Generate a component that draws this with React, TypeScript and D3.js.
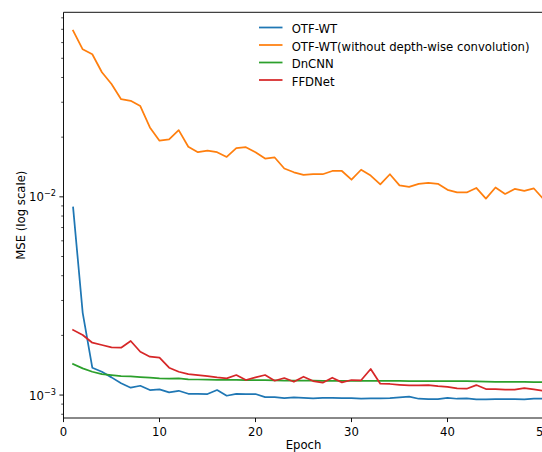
import { useEffect, useRef } from 'react';
import * as d3 from 'd3';

// epochs 1..50
const epochs: number[] = d3.range(1, 51);

const otfWt: number[] = [
	0.00884, 0.0026, 0.001374, 0.001311, 0.001228, 0.001146, 0.001089, 0.001114, 0.00106, 0.001069,
	0.001032, 0.001051, 0.001015, 0.001015, 0.001012, 0.00106, 0.000992, 0.001015, 0.001012, 0.001012,
	0.000977, 0.000977, 0.000966, 0.000974, 0.000969, 0.000962, 0.000969, 0.000969, 0.000966, 0.000966,
	0.000958, 0.000962, 0.000962, 0.000966, 0.000974, 0.000981, 0.000958, 0.000955, 0.000955, 0.000969,
	0.000958, 0.000962, 0.000951, 0.000951, 0.000955, 0.000955, 0.000955, 0.000951, 0.000958, 0.000958
];

const otfWtNoDw: number[] = [
	0.0689, 0.0555, 0.0524, 0.0425, 0.0371, 0.0311, 0.0305, 0.0287, 0.0224, 0.0192,
	0.0195, 0.0217, 0.0179, 0.0168, 0.0171, 0.0168, 0.0159, 0.0176, 0.0178, 0.0168,
	0.0156, 0.0158, 0.0139, 0.0133, 0.0129, 0.013, 0.013, 0.0135, 0.0135, 0.0122,
	0.0137, 0.0128, 0.01155, 0.013, 0.01142, 0.01123, 0.01163, 0.01177, 0.01163, 0.01085,
	0.01052, 0.01052, 0.01109, 0.00979, 0.01115, 0.01034, 0.01096, 0.01071, 0.01102, 0.00974
];

const dncnn: number[] = [
	0.001434, 0.001364, 0.001311, 0.001276, 0.001262, 0.001247, 0.001243, 0.001233, 0.001223, 0.001214,
	0.001209, 0.001214, 0.0012, 0.001198, 0.001196, 0.001194, 0.001193, 0.001192, 0.001191, 0.00119,
	0.001188, 0.001186, 0.001184, 0.001182, 0.001181, 0.001181, 0.00118, 0.00118, 0.00118, 0.00118,
	0.001179, 0.001179, 0.001178, 0.001178, 0.001178, 0.001177, 0.001177, 0.001177, 0.001176, 0.001176,
	0.001175, 0.001175, 0.001172, 0.001168, 0.001166, 0.001165, 0.001164, 0.001164, 0.001163, 0.001163
];

const ffdnet: number[] = [
	0.00213, 0.002009, 0.001837, 0.001789, 0.001741, 0.001733, 0.001874, 0.001654, 0.001561, 0.001543,
	0.001374, 0.001311, 0.001276, 0.001262, 0.001247, 0.001228, 0.001214, 0.001262, 0.001191, 0.001228,
	0.001262, 0.001181, 0.001219, 0.001167, 0.001237, 0.001177, 0.001154, 0.001223, 0.001159, 0.001191,
	0.001187, 0.001353, 0.001141, 0.001137, 0.001127, 0.001119, 0.001119, 0.001123, 0.00111, 0.001101,
	0.001081, 0.001076, 0.001123, 0.001072, 0.001072, 0.001064, 0.001064, 0.001085, 0.001069, 0.001051
];

const seriesNames: string[] = ['OTF-WT', 'OTF-WT(without depth-wise convolution)', 'DnCNN', 'FFDNet'];
const seriesColors: string[] = ['#1f77b4', '#ff7f0e', '#2ca02c', '#d62728'];
const xTicks: number[] = [0, 10, 20, 30, 40, 50];
const yMajorExps: number[] = [-3, -2];

export default function App() {
	const svgRef = useRef<SVGSVGElement | null>(null);

	useEffect(() => {
		const svg = d3.select(svgRef.current);
		svg.selectAll('*').remove();

		const width = 542;
		const height = 452;
		const left = 63.5;
		const right = 543.5;
		const top = 12.3;
		const bottom = 418;
		const font = 'DejaVu Sans, sans-serif';
		const fs = 11.67;

		svg.attr('width', width).attr('height', height);

		const x = d3.scaleLinear().domain([0, 50]).range([left, right]);
		const y = d3.scaleLog().domain([7.66e-4, 0.0853]).range([bottom, top]);

		svg.append('defs').append('clipPath').attr('id', 'plot-clip')
			.append('rect').attr('x', left).attr('y', top).attr('width', right - left).attr('height', bottom - top);

		// lines
		const allSeries = [otfWt, otfWtNoDw, dncnn, ffdnet];
		const line = d3.line<number>().x((_, i) => x(epochs[i])).y((d) => y(d));
		const lines = svg.append('g').attr('clip-path', 'url(#plot-clip)');
		allSeries.forEach((s, i) => {
			lines.append('path')
				.attr('d', line(s))
				.attr('fill', 'none')
				.attr('stroke', seriesColors[i])
				.attr('stroke-width', 1.75)
				.attr('stroke-linejoin', 'round')
				.attr('stroke-linecap', 'square');
		});

		// spines
		const spine = svg.append('g').attr('stroke', '#000').attr('stroke-width', 0.93).attr('fill', 'none');
		spine.append('path').attr('d', `M${left},${top}V${bottom}H${right}`);
		spine.append('path').attr('d', `M${left},${top}H${right}`);

		// x ticks
		const xAxis = svg.append('g');
		xTicks.forEach((t) => {
			xAxis.append('line').attr('x1', x(t)).attr('x2', x(t)).attr('y1', bottom).attr('y2', bottom + 4.1)
				.attr('stroke', '#000').attr('stroke-width', 0.93);
			xAxis.append('text').attr('x', x(t)).attr('y', bottom + 17.5).attr('text-anchor', 'middle')
				.attr('font-family', font).attr('font-size', fs).attr('fill', '#000').text(String(t));
		});

		// y ticks (log)
		const yAxis = svg.append('g');
		const [lo, hi] = y.domain();
		for (let e = -4; e <= -1; e++) {
			for (let m = 2; m <= 9; m++) {
				const v = m * Math.pow(10, e);
				if (v < lo || v > hi) continue;
				yAxis.append('line').attr('x1', left - 2.3).attr('x2', left).attr('y1', y(v)).attr('y2', y(v))
					.attr('stroke', '#000').attr('stroke-width', 0.7);
			}
		}
		yMajorExps.forEach((e) => {
			const v = Math.pow(10, e);
			yAxis.append('line').attr('x1', left - 4.1).attr('x2', left).attr('y1', y(v)).attr('y2', y(v))
				.attr('stroke', '#000').attr('stroke-width', 0.93);
			const t = yAxis.append('text').attr('x', left - 7.5).attr('y', y(v) + 4.5).attr('text-anchor', 'end')
				.attr('font-family', font).attr('font-size', fs).attr('fill', '#000');
			t.append('tspan').text('10');
			t.append('tspan').attr('font-size', 8.2).attr('dy', -5).text(`\u2212${-e}`);
		});

		// axis labels
		svg.append('text').attr('x', (left + right) / 2).attr('y', 449).attr('text-anchor', 'middle')
			.attr('font-family', font).attr('font-size', fs).attr('fill', '#000').text('Epoch');
		svg.append('text').attr('transform', `translate(24.5,${(top + bottom) / 2}) rotate(-90)`)
			.attr('text-anchor', 'middle').attr('font-family', font).attr('font-size', fs).attr('fill', '#000')
			.text('MSE (log scale)');

		// legend
		const legend = svg.append('g').attr('transform', 'translate(259,27.5)');
		seriesNames.forEach((name, i) => {
			const row = legend.append('g').attr('transform', `translate(0,${i * 17.5})`);
			row.append('line').attr('x1', 0).attr('x2', 23.5).attr('y1', 0).attr('y2', 0)
				.attr('stroke', seriesColors[i]).attr('stroke-width', 1.75);
			row.append('text').attr('x', 32.7).attr('y', 5.5)
				.attr('font-family', font).attr('font-size', fs).attr('fill', '#000').text(name);
		});

		return () => {
			svg.selectAll('*').remove();
		};
	}, []);

	return (
		<div style={{ position: 'absolute', left: 0, top: 0, width: 542, height: 452, overflow: 'hidden', background: '#fff' }}>
			<svg ref={svgRef} style={{ display: 'block' }} />
		</div>
	);
}
